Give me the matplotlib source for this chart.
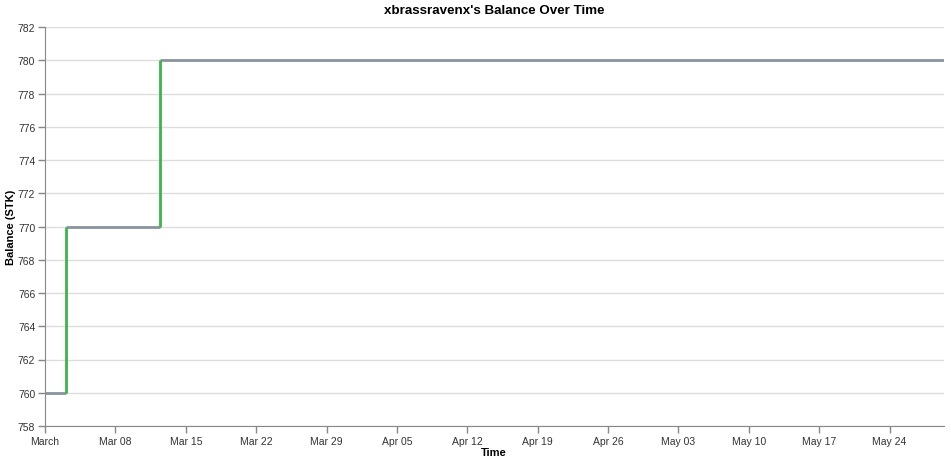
import matplotlib
matplotlib.use("Agg")
import matplotlib.pyplot as plt
import matplotlib.dates as mdates
import numpy as np
from datetime import datetime

# balance change points (last one is the end of the series)
times = [datetime(2025, 3, 1, 0, 0), datetime(2025, 3, 3, 2, 0),
         datetime(2025, 3, 12, 11, 0), datetime(2025, 5, 29, 10, 0)]
balances = [760, 770, 780, 780]

tick_dates = [datetime(2025, 3, 1), datetime(2025, 3, 8), datetime(2025, 3, 15),
              datetime(2025, 3, 22), datetime(2025, 3, 29), datetime(2025, 4, 5),
              datetime(2025, 4, 12), datetime(2025, 4, 19), datetime(2025, 4, 26),
              datetime(2025, 5, 3), datetime(2025, 5, 10), datetime(2025, 5, 17),
              datetime(2025, 5, 24)]
tick_labels = ["March", "Mar 08", "Mar 15", "Mar 22", "Mar 29", "Apr 05",
               "Apr 12", "Apr 19", "Apr 26", "May 03", "May 10", "May 17", "May 24"]

plt.rcParams['font.family'] = ['Liberation Sans', 'DejaVu Sans']

W, H = 951, 464
fig = plt.figure(figsize=(W / 100, H / 100), dpi=100)
ax = fig.add_axes([45 / W, 1 - 427 / H, 899 / W, 399 / H])

# flat stretches in gray, jumps in green
ax.hlines(balances[:-1], times[:-1], times[1:], color="#8a949e", linewidth=2, zorder=3)
ax.vlines(times[1:-1], balances[:-2], balances[1:-1], color="#3cb44b", linewidth=2, zorder=4)

ax.set_xlim(times[0], times[-1])
ax.set_ylim(758, 782)
ax.set_yticks(np.arange(758, 783, 2))
ax.set_xticks(mdates.date2num(tick_dates))
ax.set_xticklabels(tick_labels)

ax.grid(axis="y", color="#dddddd", linewidth=1, zorder=0)
ax.set_axisbelow(True)
for s in ["top", "right"]:
    ax.spines[s].set_visible(False)
for s in ["left", "bottom"]:
    ax.spines[s].set_color("#888888")
ax.tick_params(axis="both", colors="#888888", labelcolor="#333333", labelsize=7.5,
               length=5, width=1, pad=2)

fig.text(494 / W, 1 - 11 / H, "xbrassravenx's Balance Over Time", fontsize=9.6,
         fontweight="bold", ha="center", va="center")
fig.text(494 / W, 1 - 453 / H, "Time", fontsize=8, fontweight="bold",
         ha="center", va="center")
fig.text(11 / W, 1 - 227 / H, "Balance (STK)", fontsize=8, fontweight="bold",
         ha="center", va="center", rotation=90)

fig.savefig("out.png", dpi=100)
